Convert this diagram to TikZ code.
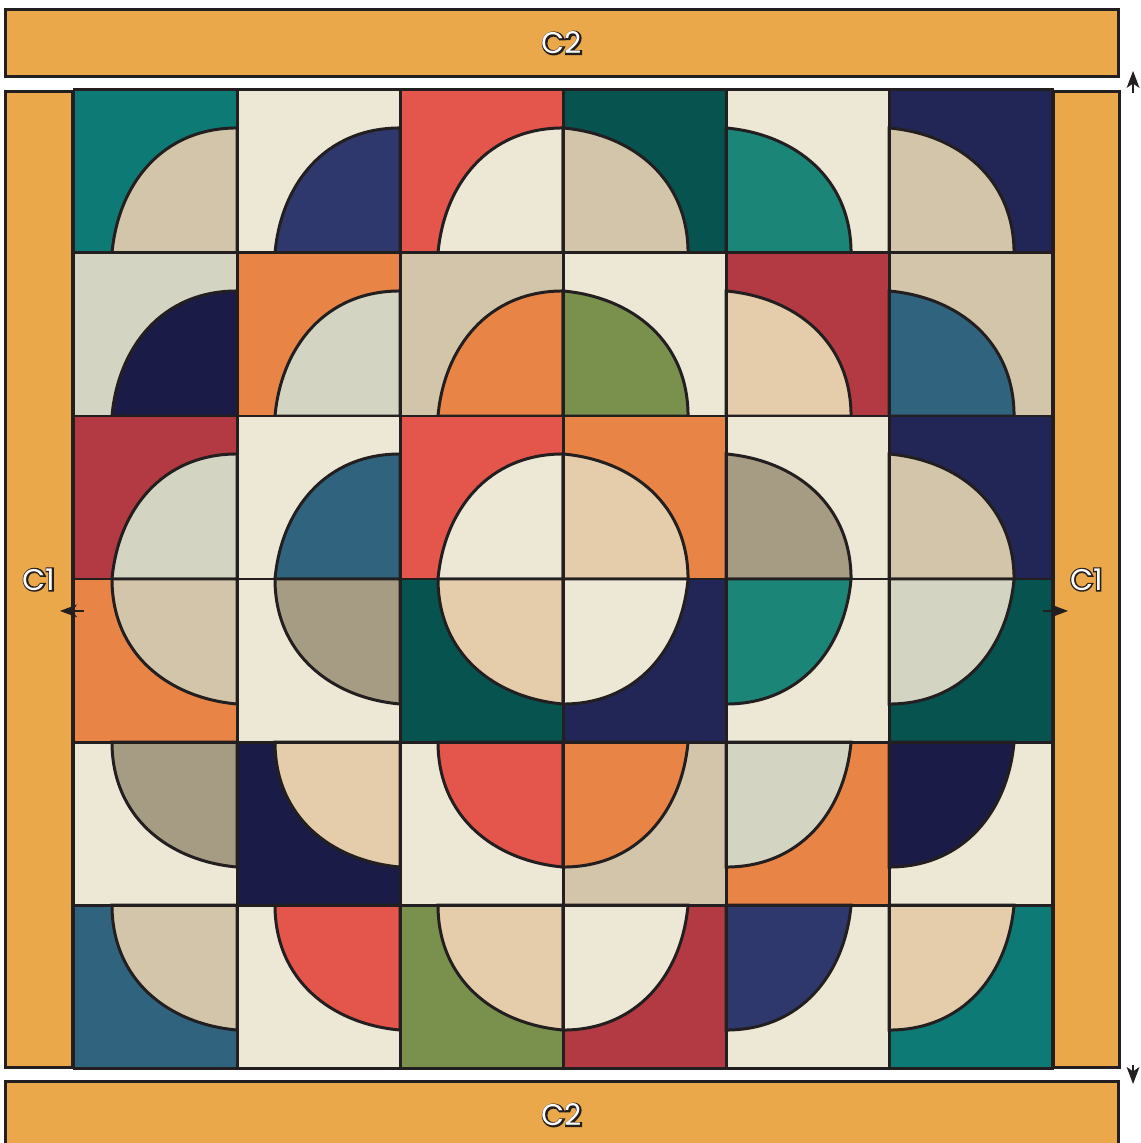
\documentclass[tikz,border=0pt]{standalone}
\usepackage{fontspec}
\usetikzlibrary{positioning,arrows.meta}
\newfontfamily\stripfont{Poppins}
\newfontfamily\stripfonthalo{Poppins}[FakeBold=9]
\definecolor{Outline}{RGB}{35,31,32}
\definecolor{BorderGold}{RGB}{235,168,74}
\definecolor{Teal}{RGB}{14,122,118}
\definecolor{DeepTeal}{RGB}{7,83,79}
\definecolor{SeaGreen}{RGB}{27,133,119}
\definecolor{Cream}{RGB}{237,231,214}
\definecolor{Tan}{RGB}{211,197,169}
\definecolor{Peach}{RGB}{229,205,172}
\definecolor{Sage}{RGB}{211,212,194}
\definecolor{Taupe}{RGB}{166,156,132}
\definecolor{Red}{RGB}{228,85,75}
\definecolor{Crimson}{RGB}{179,58,67}
\definecolor{Orange}{RGB}{231,132,70}
\definecolor{Navy}{RGB}{34,38,87}
\definecolor{Midnight}{RGB}{26,28,71}
\definecolor{Indigo}{RGB}{47,56,108}
\definecolor{Steel}{RGB}{47,99,126}
\definecolor{Olive}{RGB}{122,145,78}
\newcommand{\striplabel}[1]{\fontsize{8.5}{10}\selectfont\makebox[0pt][l]{\stripfonthalo\color{Outline}#1}{\stripfont\color{white}#1}}

\begin{document}
\begin{tikzpicture}[x=1.63cm, y=-1.63cm,
  seam/.style={draw=Outline, line width=0.85pt},
  borderstrip/.style={draw=Outline, line width=0.85pt, fill=BorderGold, inner sep=0pt},
  pressarrow/.style={-{Stealth[length=4.8pt, width=3.6pt, inset=1.2pt]}, line width=0.6pt, Outline}]
  \clip (-0.454,-0.552) rectangle (6.540,6.460);
  % blocks: column/row/background/quarter/turn of the quarter
  \foreach \col/\row/\bg/\fg/\ang in {
    0/0/Teal/Tan/0, 1/0/Cream/Indigo/0, 2/0/Red/Cream/0, 3/0/DeepTeal/Tan/270, 4/0/Cream/SeaGreen/270, 5/0/Navy/Tan/270,
    0/1/Sage/Midnight/0, 1/1/Orange/Sage/0, 2/1/Tan/Orange/0, 3/1/Cream/Olive/270, 4/1/Crimson/Peach/270, 5/1/Tan/Steel/270,
    0/2/Crimson/Sage/0, 1/2/Cream/Steel/0, 2/2/Red/Cream/0, 3/2/Orange/Peach/270, 4/2/Cream/Taupe/270, 5/2/Navy/Tan/270,
    0/3/Orange/Tan/90, 1/3/Cream/Taupe/90, 2/3/DeepTeal/Peach/90, 3/3/Navy/Cream/180, 4/3/Cream/SeaGreen/180, 5/3/DeepTeal/Sage/180,
    0/4/Cream/Taupe/90, 1/4/Midnight/Peach/90, 2/4/Cream/Red/90, 3/4/Tan/Orange/180, 4/4/Orange/Sage/180, 5/4/Cream/Midnight/180,
    0/5/Steel/Tan/90, 1/5/Cream/Red/90, 2/5/Olive/Peach/90, 3/5/Crimson/Cream/180, 4/5/Cream/Indigo/180, 5/5/Teal/Peach/180}{
    \begin{scope}[shift={(\col,\row)}]
      \fill[\bg] (0,0) rectangle (1,1);
      \begin{scope}[rotate around={\ang:(0.5,0.5)}]
        \filldraw[fill=\fg, seam] (1,1) -- (1,0.233) .. controls (0.540,0.233) and (0.271,0.578) .. (0.233,1) -- cycle;
      \end{scope}
      \draw[seam] (0,0) rectangle (1,1);
    \end{scope}
  }
  % border strips
  \node[borderstrip, minimum width=0.67cm, minimum height=9.76cm, anchor=north east] (leftstrip) at (0,0) {\striplabel{C1}};
  \node[borderstrip, minimum width=0.66cm, minimum height=9.76cm, anchor=north west] (rightstrip) at (6,0) {\striplabel{C1}};
  \node[borderstrip, minimum width=11.13cm, minimum height=0.67cm, above=0.12cm of leftstrip.north west, anchor=south west] (topstrip) {\striplabel{C2}};
  \node[borderstrip, minimum width=11.13cm, minimum height=0.67cm, below=0.11cm of leftstrip.south west, anchor=north west] (bottomstrip) {\striplabel{C2}};
  % pressing directions
  \coordinate (topfoot) at (6.497,0.018);
  \coordinate (toptip) at (6.497,-0.117);
  \coordinate (bottomfoot) at (6.497,5.982);
  \coordinate (bottomtip) at (6.497,6.098);
  \coordinate (leftfoot) at (0.061,3.196);
  \coordinate (lefttip) at (-0.086,3.196);
  \coordinate (rightfoot) at (5.945,3.196);
  \coordinate (righttip) at (6.098,3.196);
  \draw[pressarrow] (topfoot) -- (toptip);
  \draw[pressarrow] (bottomfoot) -- (bottomtip);
  \draw[pressarrow] (leftfoot) -- (lefttip);
  \draw[pressarrow] (rightfoot) -- (righttip);
\end{tikzpicture}
\end{document}
